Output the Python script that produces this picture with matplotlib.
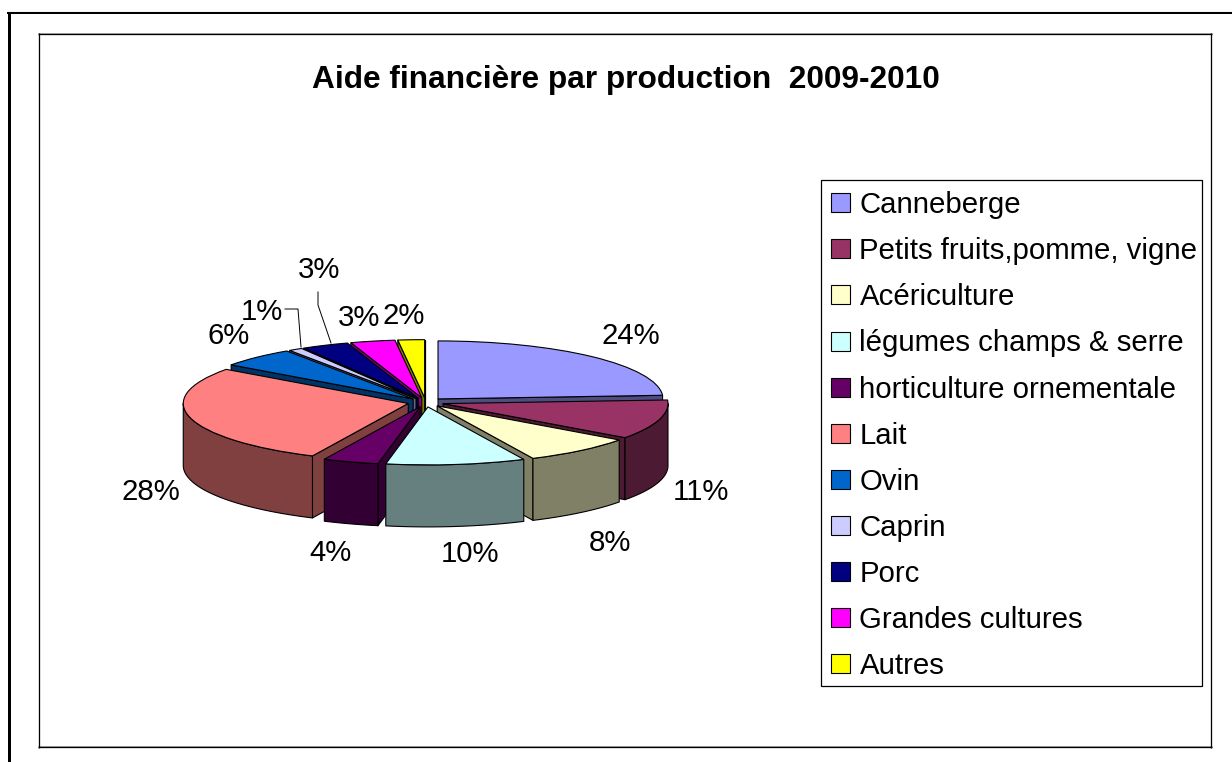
import numpy as np
import matplotlib
matplotlib.use("Agg")
import matplotlib.pyplot as plt
from matplotlib.colors import to_rgb
from matplotlib.patches import Polygon, Rectangle
from matplotlib.lines import Line2D

plt.rcParams['font.family'] = ['Liberation Sans', 'DejaVu Sans']

categories = ["Canneberge", "Petits fruits,pomme, vigne", "Acériculture",
              "légumes champs & serre", "horticulture ornementale", "Lait",
              "Ovin", "Caprin", "Porc", "Grandes cultures", "Autres"]
values = [24.0, 11.0, 8.0, 10.0, 4.0, 28.0, 5.5, 1.0, 3.4, 3.2, 1.9]
pct_labels = ["24%", "11%", "8%", "10%", "4%", "28%", "6%", "1%", "3%", "3%", "2%"]
colors = ["#9999FF", "#993366", "#FFFFCC", "#CCFFFF", "#660066", "#FF8080",
          "#0066CC", "#CCCCFF", "#000080", "#FF00FF", "#FFFF00"]
title = "Aide financière par production  2009-2010"

W, H = 1232, 762
fig = plt.figure(figsize=(W / 100, H / 100), dpi=100, facecolor="white")

def fx(x): return x / W
def fy(y): return 1 - y / H

def hline(x0, x1, y, lw, c="black"):
    fig.add_artist(Line2D([fx(x0), fx(x1)], [fy(y), fy(y)], color=c, lw=lw * 0.72,
                          solid_capstyle="butt"))
def vline(x, y0, y1, lw, c="black"):
    fig.add_artist(Line2D([fx(x), fx(x)], [fy(y0), fy(y1)], color=c, lw=lw * 0.72,
                          solid_capstyle="butt"))

# outer frame (cut off at the right and bottom edges)
hline(7, W, 11.5, 1.2, "#a0a0a0")
hline(7, W, 13.2, 2)
vline(8.5, 12, H, 3)
# chart-area box
hline(38, 1212, 32.5, 1, "#b0b0b0")
hline(38, 1212, 33.5, 1.3)
hline(38, 1212, 746, 1, "#a8a8a8")
hline(38, 1212, 747.2, 1.3)
vline(38.8, 33, 748, 1.3)
vline(1210.8, 33, 748, 1.3)

# pie axes: 225 px per unit in x, 58 px per unit in y
cx, cy, ax_px, ay_px = 425.7, 402.3, 225.0, 58.0
xlim = (-1.3, 1.3)
ylim = (-2.6, 1.4)
left = cx + xlim[0] * ax_px
right = cx + xlim[1] * ax_px
top = cy - ylim[1] * ay_px
bottom = cy - ylim[0] * ay_px
ax = fig.add_axes([fx(left), fy(bottom), (right - left) / W, (bottom - top) / H])

EDGE = dict(edgecolor="black", linewidth=0.8, joinstyle="round")
wedges, _ = ax.pie(values, explode=[0.08] * len(values), startangle=90,
                   counterclock=False, colors=colors, radius=1.0,
                   wedgeprops=dict(edgecolor="black", linewidth=0.8))
ax.set_aspect("auto")
ax.set_xlim(*xlim)
ax.set_ylim(*ylim)
ax.axis("off")

DEPTH = 62.0 / ay_px

def rim(w, phi):
    r = np.deg2rad(phi)
    return w.center[0] + w.r * np.cos(r), w.center[1] + w.r * np.sin(r)

mids = [np.deg2rad((w.theta1 + w.theta2) / 2) for w in wedges]
order = np.argsort([-np.sin(m) for m in mids])

for rank, i in enumerate(order):
    w = wedges[i]
    side = tuple(c * 0.5 for c in to_rgb(colors[i]))
    z = 5 + rank
    def add_poly(pts):
        ax.add_patch(Polygon(pts, closed=True, facecolor=side, zorder=z,
                             clip_on=False, **EDGE))
    # cut faces that look toward the viewer
    for phi, visible in ((w.theta1, np.cos(np.deg2rad(w.theta1)) > 0),
                         (w.theta2, np.cos(np.deg2rad(w.theta2)) < 0)):
        if visible:
            px, py = rim(w, phi)
            c0, c1 = w.center
            add_poly([(c0, c1), (px, py), (px, py - DEPTH), (c0, c1 - DEPTH)])
    # curved outer wall on the front half of the rim
    for k in (-1, 0, 1):
        a0 = max(w.theta1, -180 + 360 * k)
        a1 = min(w.theta2, 360 * k)
        if a1 > a0:
            phis = np.linspace(a0, a1, 60)
            upper = [rim(w, p) for p in phis]
            lower = [(x, y - DEPTH) for x, y in upper[::-1]]
            add_poly(upper + lower)
    w.set_zorder(z + 0.5)
    w.set_clip_on(False)

# percentage labels, centred at their positions in the picture
label_px = [(631, 336), (701, 492), (610, 543), (470, 554), (331, 553), (151, 492),
            (229, 336), (262, 312), (319, 270), (359, 318), (404, 316)]
for s, (x, y) in zip(pct_labels, label_px):
    fig.text(fx(x), fy(y), s, fontsize=21.2, ha="center", va="center", color="black",
             zorder=30)

# leader lines for 1% and 3%
for xs, ys in (([285, 298, 301], [309, 309, 347]), ([318, 318, 331], [292, 305, 343])):
    fig.add_artist(Line2D([fx(v) for v in xs], [fy(v) for v in ys], color="black",
                          lw=0.7, zorder=20))

fig.text(fx(626), fy(80), title, fontsize=22.8, fontweight="bold", ha="center",
         va="center", color="black")

# legend frame
fig.add_artist(Rectangle((fx(820.5), fy(686)), (1202 - 820.5) / W, (686 - 179.5) / H,
                         transform=fig.transFigure, facecolor="white",
                         edgecolor="black", linewidth=0.9, zorder=2))
leg = fig.legend(wedges, categories, loc="upper left",
                 bbox_to_anchor=(fx(820), fy(180.5)), bbox_transform=fig.transFigure,
                 fontsize=21.2, frameon=False, borderpad=0.36, borderaxespad=0,
                 handlelength=0.65, handleheight=0.62, handletextpad=0.33,
                 labelspacing=0.615)
leg.set_zorder(3)
for h in leg.legend_handles:
    h.set_linewidth(0.8)

fig.savefig("out.png", dpi=100, facecolor="white")
